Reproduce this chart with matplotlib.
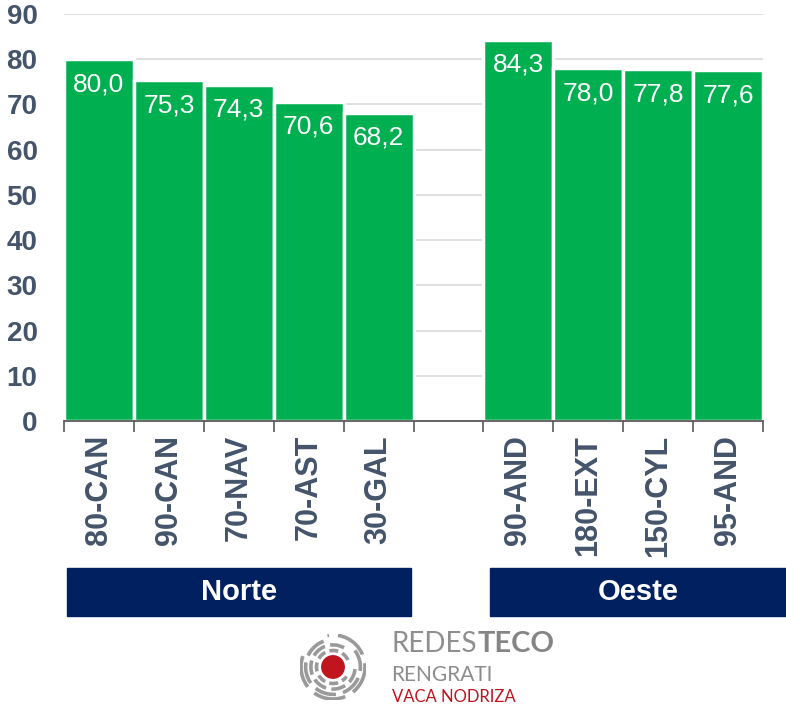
import matplotlib
matplotlib.use("Agg")
import matplotlib.pyplot as plt
from matplotlib.patches import Arc, Circle, Rectangle
import numpy as np

plt.rcParams['font.family'] = ['Liberation Sans', 'DejaVu Sans']

# data
norte_labels = ['80-CAN', '90-CAN', '70-NAV', '70-AST', '30-GAL']
norte_values = [80.0, 75.3, 74.3, 70.6, 68.2]
oeste_labels = ['90-AND', '180-EXT', '150-CYL', '95-AND']
oeste_values = [84.3, 78.0, 77.8, 77.6]
group_names = ['Norte', 'Oeste']
yticks = [0, 10, 20, 30, 40, 50, 60, 70, 80, 90]

W, H = 786, 707
fig = plt.figure(figsize=(W / 100, H / 100), dpi=100)


def fx(x):
    return x / W


def fy(y):
    return 1 - y / H


ax = fig.add_axes([fx(64), fy(421), fx(763) - fx(64), fy(14) - fy(421)])

green = '#00B050'
slate = '#44546A'
navy = '#002060'

# positions: one empty slot between the groups
norte_x = np.arange(len(norte_labels))
oeste_x = np.arange(len(oeste_labels)) + len(norte_labels) + 1
xs = np.concatenate([norte_x, oeste_x])
vals = norte_values + oeste_values
labels = norte_labels + oeste_labels

ax.bar(xs, vals, width=1.0, color=green, edgecolor='white', linewidth=2.5, zorder=3)

for x, v in zip(xs, vals):
    ax.annotate(f'{v:.1f}'.replace('.', ','), xy=(x, v), xytext=(0, -18),
                textcoords='offset points', ha='center', va='center',
                color='white', fontsize=19, zorder=4)

ax.set_xlim(-0.5, xs[-1] + 0.5)
ax.set_ylim(0, 90)
ax.set_yticks(yticks, labels=[str(t) for t in yticks], fontsize=20,
              fontweight='bold', color=slate)
ax.yaxis.grid(True, color='#D9D9D9', linewidth=1.2, zorder=0)
ax.set_axisbelow(True)
for s in ['left', 'right', 'top']:
    ax.spines[s].set_visible(False)
ax.spines['bottom'].set_color('#595959')
ax.spines['bottom'].set_linewidth(1.3)
ax.spines['bottom'].set_zorder(5)
ax.tick_params(axis='y', length=0, pad=19)

ax.set_xticks(xs, labels=labels, rotation=90, fontsize=22, fontweight='bold', color=slate)
ax.tick_params(axis='x', which='major', length=0, pad=10)
ax.set_xticks(np.arange(-0.5, xs[-1] + 1, 1.0), minor=True)
ax.tick_params(axis='x', which='minor', length=8, width=1.2, color='#595959')

# group boxes
boxes = [(67, 411), (490, 786)]
for name, (x0, x1) in zip(group_names, boxes):
    fig.patches.append(Rectangle((fx(x0), fy(616)), fx(x1) - fx(x0), fy(568) - fy(616),
                                 transform=fig.transFigure, color=navy, zorder=1))
    fig.text(fx((x0 + x1) / 2), fy(592), name, color='white', fontsize=21,
             fontweight='bold', ha='center', va='center')

# logo
lax = fig.add_axes([fx(300), fy(700), fx(366) - fx(300), fy(634) - fy(700)])
lax.set_xlim(-1, 1)
lax.set_ylim(-1, 1)
lax.set_aspect('equal')
lax.axis('off')
lax.add_patch(Circle((0, 0), 0.34, color='#C0151F'))
rings = [(0.50, (0, (2.5, 1.2)), 25), (0.67, (0, (4, 1.5)), 60),
         (0.83, (0, (6, 2)), 110), (0.97, (0, (9, 2.5)), 160)]
for r, ls, a0 in rings:
    lax.add_patch(Arc((0, 0), 2 * r, 2 * r, theta1=a0, theta2=a0 + 300, color='#9A9A9A',
                      linewidth=2.6, linestyle=ls))

t1 = fig.text(fx(391), fy(652), 'REDES', color='#8F8F8F', fontsize=20, family='Lato',
              va='baseline')
fig.canvas.draw()
bb = t1.get_window_extent()
fig.text(bb.x1 / W + fx(1), fy(652), 'TECO', color='#858585', fontsize=21, family='Lato',
         fontweight='bold', va='baseline')
fig.text(fx(391), fy(681), 'RENGRATI', color='#8C8C8C', fontsize=15, family='Lato',
         va='baseline')
fig.text(fx(392), fy(702), 'VACA NODRIZA', color='#C0151F', fontsize=12, family='Lato',
         va='baseline')

fig.savefig('out.png', dpi=100)
